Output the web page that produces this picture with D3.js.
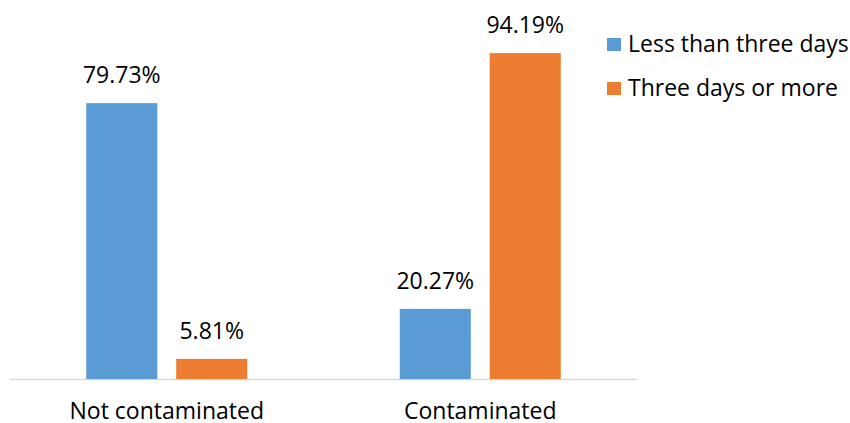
<!DOCTYPE html>
<html><head><meta charset="utf-8">
<script src="https://cdn.jsdelivr.net/npm/d3@7"></script>
<style>body{margin:0;background:#fff}svg{display:block}text{font-family:"Open Sans",sans-serif;fill:#000}</style>
</head><body>
<svg id="c" width="850" height="423"></svg>
<script>
const categories = ["Not contaminated", "Contaminated"];
const seriesNames = ["Less than three days", "Three days or more"];
const lessThanThree = [79.73, 20.27];
const threeOrMore = [5.81, 94.19];
const colors = ["#5B9BD5", "#ED7D31"];

const svg = d3.select("#c");
const x0 = d3.scaleBand().domain(categories).range([10, 637]).paddingInner(0).paddingOuter(0);
const y = d3.scaleLinear().domain([0, 100]).range([379, 33]);
const x1 = d3.scaleBand().domain(seriesNames).range([-80.5, 80.5]).paddingInner(0.21);

const series = [lessThanThree, threeOrMore];

svg.append("line").attr("x1", 10).attr("x2", 637).attr("y1", 379.5).attr("y2", 379.5)
  .attr("stroke", "#D9D9D9").attr("stroke-width", 1.5);

categories.forEach((c, i) => {
  const cx = x0(c) + x0.bandwidth() / 2;
  seriesNames.forEach((s, j) => {
    const v = series[j][i];
    svg.append("rect").attr("x", cx + x1(s)).attr("width", x1.bandwidth())
      .attr("y", y(v)).attr("height", y(0) - y(v)).attr("fill", colors[j]);
    svg.append("text").attr("x", cx + x1(s) + x1.bandwidth() / 2).attr("y", y(v) - 20)
      .attr("text-anchor", "middle").attr("font-size", 23).text(v.toFixed(2) + "%");
  });
  svg.append("text").attr("x", cx).attr("y", 419).attr("text-anchor", "middle")
    .attr("font-size", 23).text(c);
});

seriesNames.forEach((s, j) => {
  const ly = 44 + j * 44;
  svg.append("rect").attr("x", 607).attr("y", ly - 6).attr("width", 14).attr("height", 13).attr("fill", colors[j]);
  svg.append("text").attr("x", 628).attr("y", ly + 8).attr("font-size", 23).text(s);
});
</script>
</body></html>
